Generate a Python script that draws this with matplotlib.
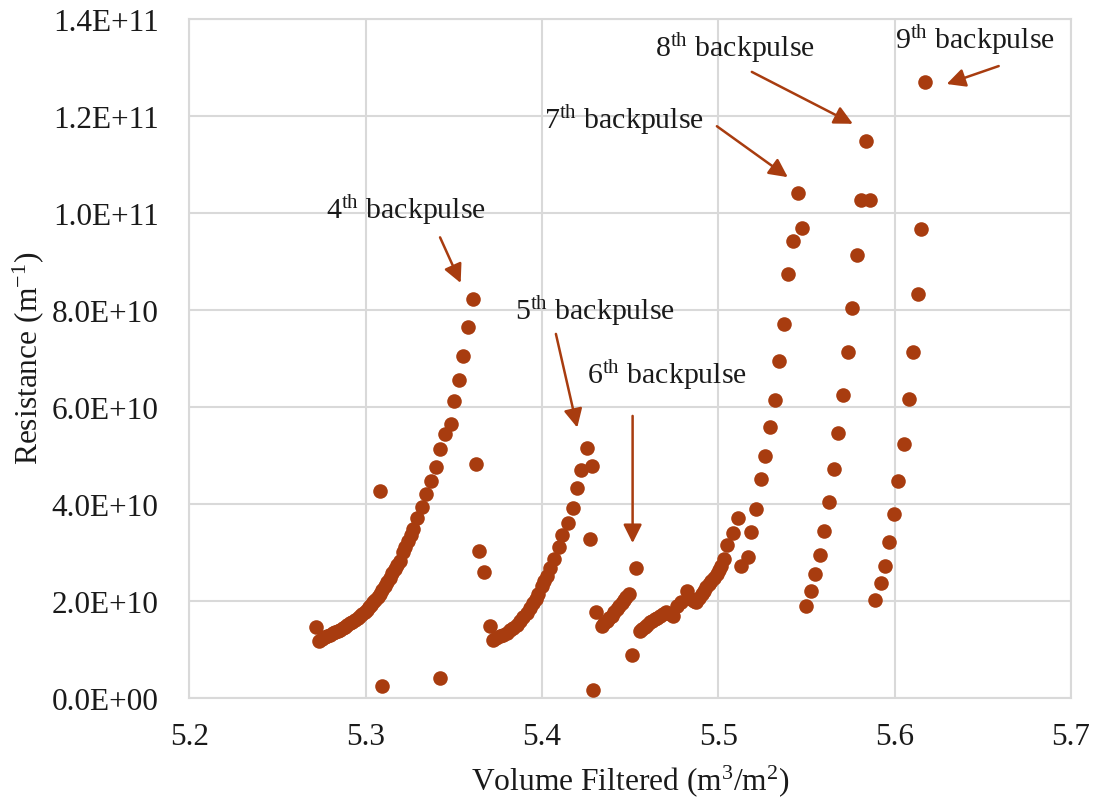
import matplotlib
matplotlib.use("Agg")
import matplotlib.pyplot as plt
from matplotlib.ticker import FuncFormatter

plt.rcParams['font.family'] = ['Liberation Serif', 'DejaVu Serif']
plt.rcParams['mathtext.fontset'] = 'custom'
plt.rcParams['mathtext.rm'] = 'Liberation Serif'
plt.rcParams['mathtext.it'] = 'Liberation Serif:italic'

# resistance values are in units of 1E10 m^-1
bp4_x = [5.2716, 5.2737, 5.2752, 5.2768, 5.2783, 5.2798, 5.2813, 5.2827, 5.2841, 5.2855,
         5.2869, 5.2883, 5.2897, 5.2911, 5.2925, 5.2940, 5.2954, 5.2968, 5.2982, 5.2995,
         5.3008, 5.3020, 5.3032, 5.3043, 5.3055, 5.3068, 5.3081, 5.3095, 5.3109, 5.3123,
         5.3138, 5.3152, 5.3166, 5.3180, 5.3194, 5.3210, 5.3226, 5.3242, 5.3256, 5.3270,
         5.3293, 5.3321, 5.3342, 5.3370, 5.3397, 5.3421, 5.3450, 5.3482, 5.3501, 5.3531,
         5.3553, 5.3582, 5.3610,
         5.3081, 5.3091, 5.3421, 5.3624, 5.3644, 5.3672]
bp4_y = [1.46, 1.19, 1.23, 1.26, 1.29, 1.31, 1.34, 1.37, 1.39, 1.41,
         1.44, 1.47, 1.51, 1.55, 1.58, 1.62, 1.65, 1.69, 1.73, 1.78,
         1.83, 1.88, 1.93, 1.98, 2.03, 2.09, 2.15, 2.23, 2.32, 2.40,
         2.49, 2.58, 2.67, 2.74, 2.82, 3.01, 3.12, 3.24, 3.36, 3.48,
         3.71, 3.95, 4.22, 4.48, 4.77, 5.13, 5.45, 5.65, 6.12, 6.55,
         7.05, 7.66, 8.22,
         4.27, 0.26, 0.42, 4.83, 3.03, 2.60]

bp5_x = [5.3705, 5.3723, 5.3742, 5.3761, 5.3780, 5.3799, 5.3818, 5.3837, 5.3856, 5.3875,
         5.3894, 5.3913, 5.3932, 5.3950, 5.3964, 5.3978, 5.3998, 5.4012, 5.4026, 5.4045,
         5.4067, 5.4096, 5.4115, 5.4145, 5.4177, 5.4196, 5.4224, 5.4256, 5.4281,
         5.4275, 5.4290]
bp5_y = [1.49, 1.20, 1.24, 1.28, 1.31, 1.35, 1.40, 1.45, 1.51, 1.59,
         1.67, 1.76, 1.86, 1.97, 2.05, 2.14, 2.31, 2.41, 2.52, 2.69,
         2.88, 3.12, 3.36, 3.61, 3.93, 4.33, 4.71, 5.15, 4.78,
         3.28, 0.17]

bp6_x = [5.4306, 5.4338, 5.4352, 5.4366, 5.4380, 5.4395, 5.4409, 5.4423, 5.4437, 5.4451,
         5.4464, 5.4476, 5.4494, 5.4532, 5.4508]
bp6_y = [1.77, 1.50, 1.55, 1.60, 1.65, 1.70, 1.77, 1.84, 1.90, 1.96,
         2.02, 2.08, 2.15, 2.69, 0.89]

bp7_x = [5.4555, 5.4569, 5.4583, 5.4597, 5.4612, 5.4626, 5.4640, 5.4654, 5.4668, 5.4687,
         5.4706, 5.4725, 5.4744, 5.4766, 5.4791, 5.4820, 5.4845, 5.4860, 5.4873, 5.4890,
         5.4905, 5.4919, 5.4933, 5.4947, 5.4961, 5.4976, 5.4990, 5.5004, 5.5018, 5.5033,
         5.5052, 5.5084, 5.5112, 5.5131, 5.5169, 5.5184, 5.5213, 5.5241, 5.5264, 5.5292,
         5.5324, 5.5343, 5.5373, 5.5396, 5.5424, 5.5475, 5.5452]
bp7_y = [1.39, 1.43, 1.46, 1.51, 1.57, 1.60, 1.63, 1.66, 1.69, 1.73,
         1.77, 1.73, 1.69, 1.91, 1.99, 2.21, 2.05, 2.00, 1.99, 2.07,
         2.15, 2.22, 2.29, 2.35, 2.42, 2.49, 2.56, 2.64, 2.72, 2.87,
         3.15, 3.41, 3.72, 2.73, 2.91, 3.43, 3.90, 4.53, 4.99, 5.60,
         6.14, 6.95, 7.71, 8.74, 9.43, 9.70, 10.42]

bp8_x = [5.5498, 5.5526, 5.5551, 5.5577, 5.5600, 5.5628, 5.5657, 5.5679, 5.5706, 5.5736,
         5.5757, 5.5789, 5.5812, 5.5863, 5.5837]
bp8_y = [1.90, 2.21, 2.56, 2.95, 3.45, 4.05, 4.72, 5.46, 6.26, 7.13,
         8.04, 9.13, 10.27, 10.27, 11.49]

bp9_x = [5.5890, 5.5922, 5.5943, 5.5970, 5.5998, 5.6019, 5.6051, 5.6079, 5.6102, 5.6130,
         5.6151, 5.6171]
bp9_y = [2.03, 2.37, 2.72, 3.22, 3.79, 4.48, 5.25, 6.17, 7.13, 8.33,
         9.68, 12.70]

# label text, arrow tail (x, y), arrow head (x, y), text anchor (x, y), alignment
notes = [
    ("4$^{\\rm th}$ backpulse", (5.3422, 9.50), (5.3539, 8.56), (5.3226, 10.09), 'center'),
    ("5$^{\\rm th}$ backpulse", (5.4079, 7.51), (5.4200, 5.58), (5.4303, 8.01), 'center'),
    ("6$^{\\rm th}$ backpulse", (5.4514, 5.82), (5.4514, 3.20), (5.4711, 6.68), 'center'),
    ("7$^{\\rm th}$ backpulse", (5.4992, 11.79), (5.5394, 10.74), (5.4920, 11.94), 'right'),
    ("8$^{\\rm th}$ backpulse", (5.5190, 12.91), (5.5763, 11.84), (5.5096, 13.42), 'center'),
    ("9$^{\\rm th}$ backpulse", (5.6590, 13.03), (5.6295, 12.66), (5.6457, 13.59), 'center'),
]

color = '#A83C0F'
grid_color = '#D9D9D9'

fig, ax = plt.subplots(figsize=(10.98, 8.03), dpi=100)
fig.subplots_adjust(left=0.1724, right=0.9754, top=0.9751, bottom=0.1291)

for xs, ys in [(bp4_x, bp4_y), (bp5_x, bp5_y), (bp6_x, bp6_y),
               (bp7_x, bp7_y), (bp8_x, bp8_y), (bp9_x, bp9_y)]:
    ax.scatter(xs, [v * 1e10 for v in ys], s=110, color=color, linewidths=0, zorder=3)

for text, tail, head, pos, ha in notes:
    ax.annotate("", xy=(head[0], head[1] * 1e10), xytext=(tail[0], tail[1] * 1e10),
                arrowprops=dict(arrowstyle='-|>', color=color, lw=1.8,
                                mutation_scale=28, shrinkA=0, shrinkB=0), zorder=4)
    ax.text(pos[0], pos[1] * 1e10, text, ha=ha, va='center', fontsize=21.5,
            color='#1a1a1a', zorder=5)

ax.set_xlim(5.2, 5.7)
ax.set_ylim(0, 1.4e11)
ax.set_xticks([5.2, 5.3, 5.4, 5.5, 5.6, 5.7])
ax.set_yticks([i * 2e10 for i in range(8)])
ax.xaxis.set_major_formatter(FuncFormatter(lambda v, p: "%.1f" % v))
ax.yaxis.set_major_formatter(FuncFormatter(lambda v, p: "%.1E" % v))
ax.tick_params(axis='both', length=0, labelsize=22.5, colors='#1a1a1a')
ax.tick_params(axis='x', pad=17)
ax.tick_params(axis='y', pad=22)

ax.grid(True, color=grid_color, lw=1.5, zorder=0)
ax.set_axisbelow(True)
for s in ax.spines.values():
    s.set_color(grid_color)
    s.set_linewidth(1.5)

ax.set_xlabel("Volume Filtered (m$^3$/m$^2$)", fontsize=22.7, color='#1a1a1a')
ax.set_ylabel("Resistance (m$^{-1}$)", fontsize=22.7, color='#1a1a1a')
ax.xaxis.set_label_coords(0.5, -0.120)
ax.yaxis.set_label_coords(-0.183, 0.502)
ax.xaxis.label.set_va('center')
ax.yaxis.label.set_va('center')

plt.savefig("out.png", dpi=100)
